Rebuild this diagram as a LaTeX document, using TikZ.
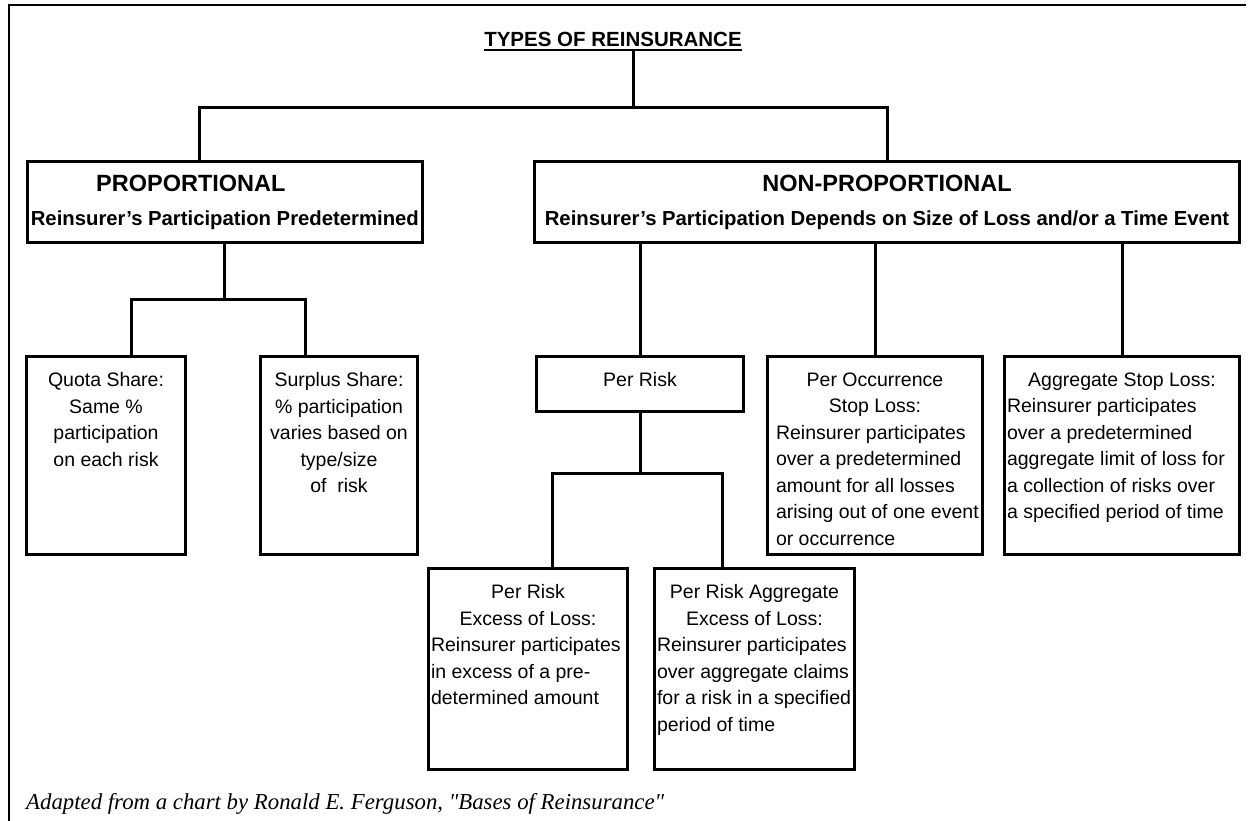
\documentclass[tikz,border=0pt]{standalone}
\usepackage{fontspec}
\setmainfont{Liberation Sans}
\newfontfamily\sourcefont{Liberation Serif}
\usetikzlibrary{positioning}

\newcommand{\titlefont}{\fontsize{20.5}{24}\selectfont\bfseries}
\newcommand{\headfont}{\fontsize{23.5}{28}\selectfont\bfseries}
\newcommand{\subfont}{\fontsize{20.3}{24}\selectfont\bfseries}
\newcommand{\cellfont}{\fontsize{19.5}{26.5}\selectfont}
% Text of a box: width, height, lines (top aligned)
\newcommand{\boxtext}[3]{\parbox[t][#2][t]{#1}{\cellfont\vspace*{16pt}#3}}
% Left aligned lines that never break
\newcommand{\leftlines}[2][0pt]{\noindent\hspace*{#1}\begin{tabular}[t]{@{}l@{}}#2\end{tabular}\par}

\begin{document}
\begin{tikzpicture}[x=1pt, y=-1pt]
		\tikzstyle{headbox} = [draw, line width=3pt, align=center, font=\subfont, anchor=north west]
		\tikzstyle{cell} = [draw, line width=3pt, inner xsep=2.5pt, inner ysep=0pt, anchor=north west]
		\tikzstyle{branch} = [line width=3pt]
		\useasboundingbox (0,0) rectangle (1248,821);
		
		% Frame
		\draw[line width=2pt] (9,821) -- (9,5) -- (1246,5);
		
		% Title
		\node[anchor=base, inner sep=0pt] at (613,47) (title) {\titlefont TYPES OF REINSURANCE};
		%% Underline
		\coordinate (titleRule) at ([yshift=-3.5pt]title.base);
		\draw[line width=2pt] (titleRule -| title.west) -- (titleRule -| title.east);
		
		% Main branches
		\node[headbox, minimum width=392pt, minimum height=81pt] at (26,160) (propBox)
			{{\headfont\hspace*{-68pt}PROPORTIONAL}\\[10pt]Reinsurer's Participation Predetermined};
		\node[headbox, minimum width=705pt, minimum height=81pt] at (533,160) (nonPropBox)
			{{\headfont NON-PROPORTIONAL}\\[10pt]Reinsurer's Participation Depends on Size of Loss and/or a Time Event};
		%% Connectors
		\coordinate (rootBus) at (633,108);
		\coordinate (propDrop) at (199,108);
		\draw[branch] (titleRule -| rootBus) -- (rootBus);
		\draw[branch] (propBox.north -| propDrop) |- (rootBus) -| (nonPropBox.north);
		
		% Proportional
		\node[cell] at (25,355) (quotaBox) {\boxtext{154pt}{198pt}{\centering Quota Share:\\Same \%\\participation\\on each risk\par}};
		\node[cell] at (259,355) (surplusBox) {\boxtext{152pt}{198pt}{\centering Surplus Share:\\\% participation\\varies based on\\type/size\\of~ risk\par}};
		%% Connectors
		\coordinate (quotaDrop) at (131,299);
		\coordinate (surplusDrop) at (305,299);
		\draw[branch] (propBox.south) -- (propBox.south |- quotaDrop);
		\draw[branch] (quotaBox.north -| quotaDrop) -- (quotaDrop) -- (surplusDrop) -- (surplusBox.north -| surplusDrop);
		
		% Non-proportional
		\node[cell] at (535,355) (perRiskBox) {\boxtext{202pt}{55pt}{\centering Per Risk\par}};
		\node[cell] at (766,355) (perOccBox) {\boxtext{210pt}{198pt}{{\centering Per Occurrence\\Stop Loss:\par}
			\leftlines[6pt]{Reinsurer participates\\over a predetermined\\amount for all losses\\arising out of one event\\or occurrence}}};
		\node[cell] at (1003,355) (aggStopBox) {\boxtext{230pt}{198pt}{{\centering Aggregate Stop Loss:\par}
			\leftlines{Reinsurer participates\\over a predetermined\\aggregate limit of loss for\\a collection of risks over\\a specified period of time}}};
		%% Connectors
		\foreach \child in {perRiskBox, perOccBox, aggStopBox}{
			\draw[branch] (nonPropBox.south -| \child.north) -- (\child.north);
		}
		
		% Per risk
		\node[cell] at (427,567) (perRiskXolBox) {\boxtext{194pt}{201pt}{{\centering Per Risk\\Excess of Loss:\par}
			\leftlines{Reinsurer participates\\in excess of a pre-\\determined amount}}};
		\node[cell] at (653,567) (perRiskAggBox) {\boxtext{195pt}{201pt}{{\centering Per Risk Aggregate\\Excess of Loss:\par}
			\leftlines{Reinsurer participates\\over aggregate claims\\for a risk in a specified\\period of time}}};
		%% Connectors
		\coordinate (xolDrop) at (552,473);
		\coordinate (aggDrop) at (722,473);
		\draw[branch] (perRiskBox.south) -- (perRiskBox.south |- xolDrop);
		\draw[branch] (perRiskXolBox.north -| xolDrop) -- (xolDrop) -- (aggDrop) -- (perRiskAggBox.north -| aggDrop);
		
		% Source
		\node[anchor=base west, inner sep=0pt] at (26,809) (source)
			{\sourcefont\itshape\fontsize{22.8}{26}\selectfont Adapted from a chart by Ronald E. Ferguson, "Bases of Reinsurance"};
\end{tikzpicture}
\end{document}
